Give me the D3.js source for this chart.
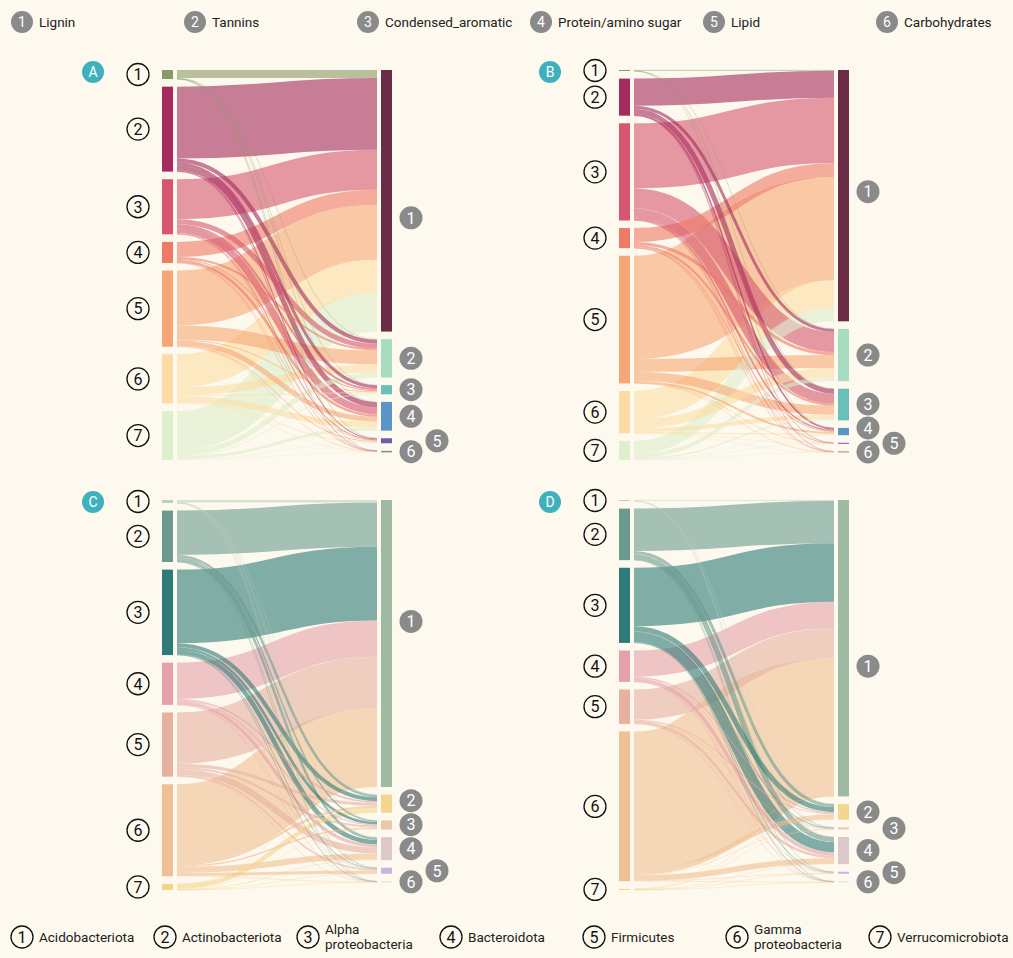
<!DOCTYPE html>
<html><head><meta charset="utf-8">
<script src="https://cdn.jsdelivr.net/npm/d3@7"></script>
<style>
body{margin:0;background:#fdf9ee;}
svg{display:block;font-family:Roboto,"Noto Sans",sans-serif;}
</style>
</head><body>
<svg id="chart" width="1013" height="958"></svg>
<script>
// ---------------- DATA ----------------
const compounds = ["Lignin","Tannins","Condensed_aromatic","Protein/amino sugar","Lipid","Carbohydrates"];
const bacteria = [["Acidobacteriota"],["Actinobacteriota"],["Alpha","proteobacteria"],["Bacteroidota"],["Firmicutes"],["Gamma","proteobacteria"],["Verrucomicrobiota"]];
const panelIds = ["A","B","C","D"];

// rows = bacteria 1..7, columns = compounds 1..6 (relative flow)
const flowsA = [
  [8, 0.4, 0.2, 0.3, 0.1, 0.05],
  [72, 4, 3, 5, 1, 0.1],
  [40, 5, 2, 7, 1, 0.2],
  [15, 2, 1, 2.5, 0.5, 0.1],
  [55, 14, 1, 5, 1, 0.3],
  [33, 8, 1, 6, 0.8, 0.4],
  [39, 5, 1, 3, 0.6, 0.4]
];
const flowsB = [
  [0.8, 0.1, 0.05, 0.05, 0, 0],
  [27, 3, 5, 1.5, 0.2, 0.3],
  [65, 20, 10, 1.5, 0.3, 0.2],
  [14, 3, 2, 0.8, 0.1, 0.1],
  [103, 13, 9, 2, 0.2, 0.2],
  [28, 9, 4, 1, 0.1, 0.1],
  [13, 4, 1.5, 0.4, 0.1, 0.1]
];
const flowsC = [
  [2.5, 0.1, 0.1, 0.2, 0.05, 0.05],
  [44, 2.5, 1.5, 2.5, 0.4, 0.1],
  [73, 4, 2.5, 4.5, 0.6, 0.2],
  [36, 1.5, 1, 3, 0.3, 0.1],
  [51, 3, 2, 6, 1.5, 0.2],
  [78, 2.5, 1.5, 6, 3, 0.3],
  [0.3, 4.5, 0.5, 0.6, 0.1, 0.1]
];
const flowsD = [
  [0.8, 0.05, 0.05, 0.1, 0, 0],
  [42, 3, 0.5, 5, 0.4, 0.2],
  [58, 5, 0.7, 10, 0.5, 0.3],
  [26, 1, 0.2, 3.5, 0.3, 0.1],
  [30, 1, 0.2, 2.5, 0.3, 0.1],
  [137, 5, 0.3, 5.5, 0.4, 0.3],
  [0.05, 0.5, 0.1, 0.3, 0.1, 0.05]
];

// colours
const bactColorsAB = ["#8a9a66","#a52a5e","#d65670","#ee7a66","#f6a674","#fcdca4","#deefcc"];
const compColorsAB = ["#6a2d45","#a8dcc0","#6ac0b8","#5b95c8","#6e5eaa","#8c8c8c"];
const bactColorsCD = ["#c0d0bc","#6a9a8e","#2e7a78","#e6a0aa","#e8b0a0","#f0c094","#f5d48a"];
const compColorsCD = ["#9ebaa0","#f5d590","#edc8a8","#dcc8c8","#c8b4e0","#e0e0e0"];

// ---------------- LAYOUT ----------------
const W = 1013, H = 958, BG = "#fdf9ee";
const nodeW = 11, pad = 7.6, gap = 4, panelH = 390, span = 219;
const panels = [
  {id: panelIds[0], flows: flowsA, lc: bactColorsAB, rc: compColorsAB, x: 162, y: 70, firstLabelDy: 17},
  {id: panelIds[1], flows: flowsB, lc: bactColorsAB, rc: compColorsAB, x: 619, y: 70, firstLabelDy: -4},
  {id: panelIds[2], flows: flowsC, lc: bactColorsCD, rc: compColorsCD, x: 162, y: 500, firstLabelDy: -22},
  {id: panelIds[3], flows: flowsD, lc: bactColorsCD, rc: compColorsCD, x: 619, y: 500, firstLabelDy: 18}
];

const svg = d3.select("#chart");
svg.append("rect").attr("width", W).attr("height", H).attr("fill", BG);

const linkGen = d3.linkHorizontal();

function stack(totals, ky, top) {
  let y = top;
  return totals.map((v, i) => {
    const n = {i, v, y0: y, y1: y + ky(v)};
    y = n.y1 + pad;
    return n;
  });
}

panels.forEach(p => {
  const g = svg.append("g");
  const leftTotals = p.flows.map(r => d3.sum(r));
  const rightTotals = compounds.map((_, j) => d3.sum(p.flows, r => r[j]));
  const total = d3.sum(leftTotals);
  const ky = d3.scaleLinear().domain([0, total]).range([0, panelH - pad * (bacteria.length - 1)]);
  const xL = p.x, xR = p.x + span;
  const leftNodes = stack(leftTotals, ky, p.y);
  const rightNodes = stack(rightTotals, ky, p.y);

  // links
  const links = [];
  const srcOff = leftNodes.map(n => n.y0);
  p.flows.forEach((row, i) => row.forEach((v, j) => {
    links.push({i, j, v, sy0: 0, ty0: 0});
  }));
  links.sort((a, b) => a.i - b.i || a.j - b.j).forEach(l => {
    l.sy0 = srcOff[l.i]; srcOff[l.i] += ky(l.v);
  });
  const tgtOff = rightNodes.map(n => n.y0);
  links.slice().sort((a, b) => a.j - b.j || a.i - b.i).forEach(l => {
    l.ty0 = tgtOff[l.j]; tgtOff[l.j] += ky(l.v);
  });
  const drawn = links.filter(l => l.v > 0).sort((a, b) => b.v - a.v);
  g.append("g").selectAll("path").data(drawn).join("path")
    .attr("d", l => {
      const w = ky(l.v);
      return linkGen({source: [xL + nodeW + gap, l.sy0 + w / 2], target: [xR - gap, l.ty0 + w / 2]});
    })
    .attr("fill", "none")
    .attr("stroke", l => p.lc[l.i])
    .attr("stroke-opacity", 0.6)
    .attr("stroke-width", l => Math.max(ky(l.v), 0.5));

  // nodes
  g.append("g").selectAll("rect").data(leftNodes).join("rect")
    .attr("x", xL).attr("y", n => n.y0).attr("width", nodeW)
    .attr("height", n => Math.max(n.y1 - n.y0, 1)).attr("fill", n => p.lc[n.i]);
  g.append("g").selectAll("rect").data(rightNodes).join("rect")
    .attr("x", xR).attr("y", n => n.y0).attr("width", nodeW)
    .attr("height", n => Math.max(n.y1 - n.y0, 1)).attr("fill", n => p.rc[n.i]);

  // left labels (outlined circles)
  let last = Infinity;
  const lpos = [];
  for (let k = leftNodes.length - 1; k >= 0; k--) {
    let cy = (leftNodes[k].y0 + leftNodes[k].y1) / 2;
    if (last - cy < 24) cy = last - 24;
    last = cy; lpos[k] = cy;
  }
  leftNodes.forEach((n, k) => {
    const lg = g.append("g").attr("transform", `translate(${xL - 24},${lpos[k]})`);
    lg.append("circle").attr("r", 11).attr("fill", BG).attr("stroke", "#111").attr("stroke-width", 1.3);
    lg.append("text").attr("text-anchor", "middle").attr("dy", "0.36em")
      .attr("font-size", 16).attr("fill", "#111").text(k + 1);
  });

  // right labels (grey discs) with simple repel
  let last0 = Infinity, last1 = Infinity;
  const rpos = [];
  for (let k = rightNodes.length - 1; k >= 0; k--) {
    const n = rightNodes[k];
    let cy = (n.y0 + n.y1) / 2, col = 0;
    if (k === 0) cy += p.firstLabelDy;
    if (last0 - cy < 24) {
      if (n.y1 - n.y0 < 7 && last1 - cy >= 24) col = 1;
      else cy = last0 - 24;
    }
    if (col === 0) last0 = cy; else last1 = cy;
    rpos[k] = {cy, col};
  }
  rightNodes.forEach((n, k) => {
    const lg = g.append("g").attr("transform", `translate(${xR + 30 + rpos[k].col * 26},${rpos[k].cy})`);
    lg.append("circle").attr("r", 11.5).attr("fill", "#8a8a8a");
    lg.append("text").attr("text-anchor", "middle").attr("dy", "0.36em")
      .attr("font-size", 16).attr("fill", "#fff").text(k + 1);
  });

  // panel badge
  const bg = g.append("g").attr("transform", `translate(${xL - 69},${p.y + 2})`);
  bg.append("circle").attr("r", 11).attr("fill", "#3fb0be");
  bg.append("text").attr("text-anchor", "middle").attr("dy", "0.36em")
    .attr("font-size", 14).attr("fill", "#fff").text(p.id);
});

// top legend (compounds)
const topLeg = svg.append("g").selectAll("g").data(compounds).join("g")
  .attr("transform", (d, i) => `translate(${22 + i * 173},22)`);
topLeg.append("circle").attr("r", 11).attr("fill", "#8a8a8a");
topLeg.append("text").attr("text-anchor", "middle").attr("dy", "0.36em")
  .attr("font-size", 14).attr("fill", "#fff").text((d, i) => i + 1);
topLeg.append("text").attr("x", 17).attr("dy", "0.36em")
  .attr("font-size", 13.5).attr("fill", "#222").text(d => d);

// bottom legend (bacteria)
const botLeg = svg.append("g").selectAll("g").data(bacteria).join("g")
  .attr("transform", (d, i) => `translate(${22 + i * 143},937)`);
botLeg.append("circle").attr("r", 11).attr("fill", BG).attr("stroke", "#111").attr("stroke-width", 1.3);
botLeg.append("text").attr("text-anchor", "middle").attr("dy", "0.36em")
  .attr("font-size", 16).attr("fill", "#111").text((d, i) => i + 1);
botLeg.each(function(d) {
  const t = d3.select(this).append("text").attr("x", 17).attr("font-size", 13.5).attr("fill", "#222");
  d.forEach((line, li) => {
    t.append("tspan").attr("x", 17)
      .attr("y", (li - (d.length - 1) / 2) * 15)
      .attr("dy", "0.36em").text(line);
  });
});
</script>
</body></html>
